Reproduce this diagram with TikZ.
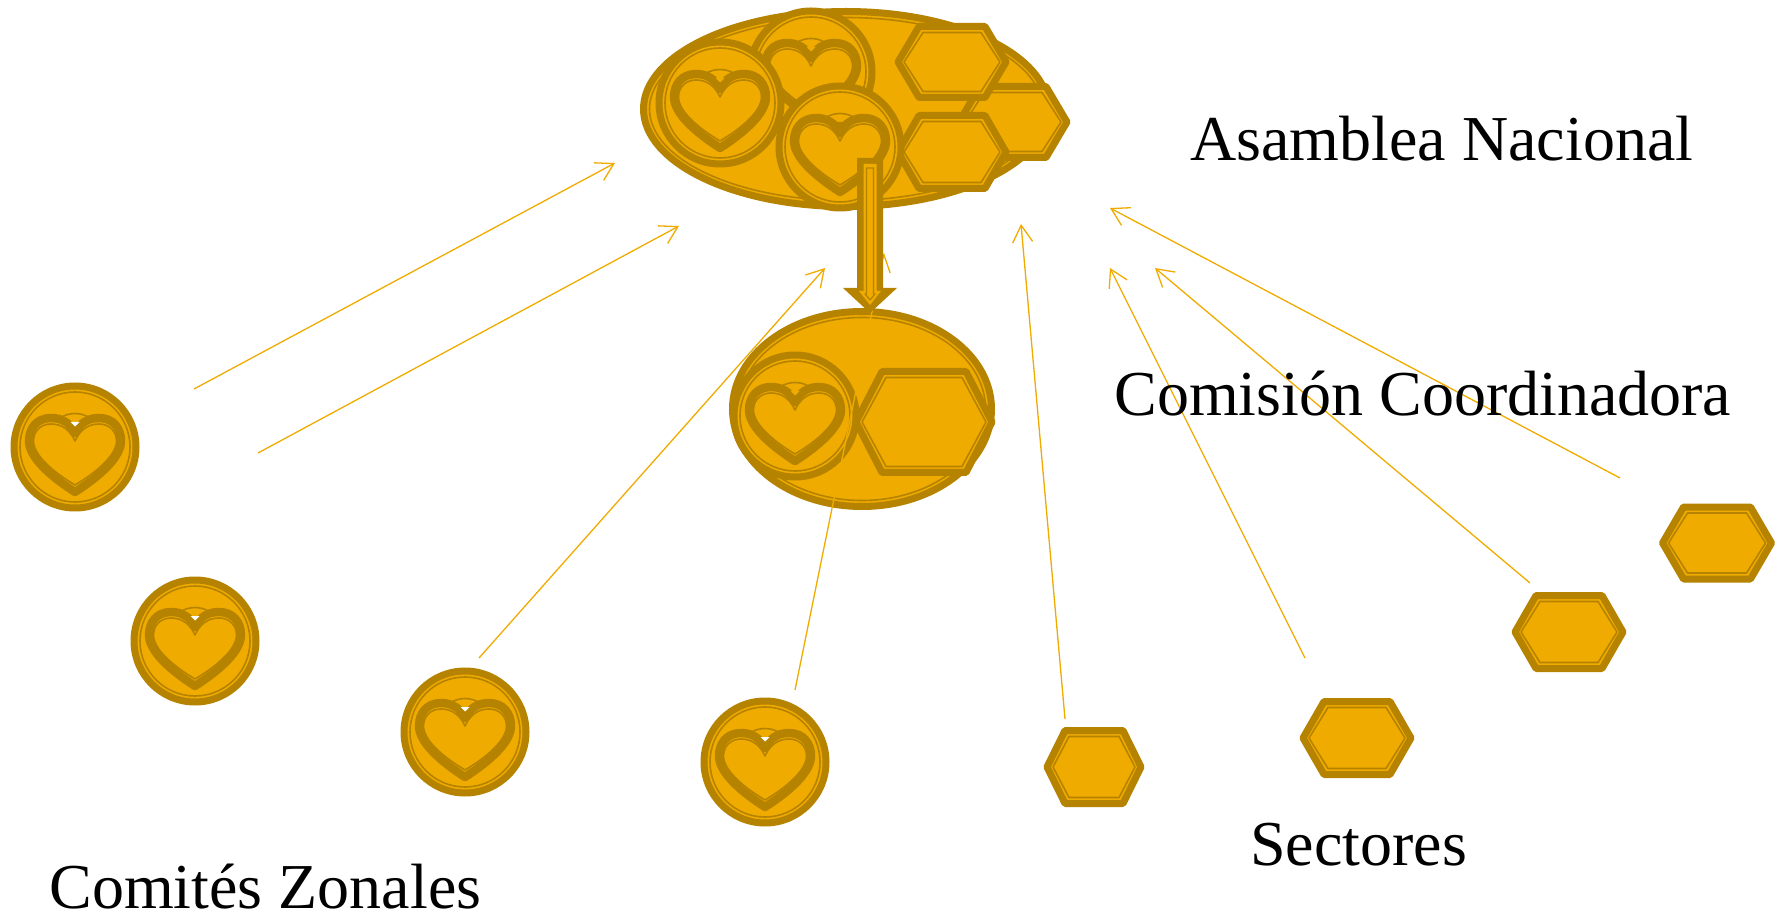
\documentclass[tikz,border=0pt]{standalone}
\usepackage{fontspec}
\setmainfont{Liberation Serif}
\usetikzlibrary{arrows.meta}
\definecolor{gold}{HTML}{F0AB00}
\definecolor{darkgold}{HTML}{B58300}
\tikzset{
  band/.style={draw=darkgold,line width=3.5pt,line join=round,fill=gold},
  heartband/.style={draw=darkgold,line width=4.2pt,line join=round,fill=gold},
  thin/.style={draw=darkgold,line width=0.8pt,line join=round},
  link/.style={draw=gold,line width=0.65pt,-{Straight Barb[length=8.5pt,width=10pt,line width=0.65pt]}},
  lab/.style={anchor=base west,inner sep=0pt,text depth=0pt,font=\fontsize{32}{38}\selectfont,text=black}
}
% blob: cx cy rx ry
\newcommand{\blobshape}[4]{%
  \path[band] (#1,#2) ellipse [x radius=#3-3.5,y radius=#4-3.5];
  \path[thin] (#1,#2) ellipse [x radius=#3-9.5,y radius=#4-9.5];
}
% hexa: cx cy hw hh inset
\newcommand{\hexa}[5]{%
  \begin{scope}[shift={(#1,#2)}]
  \path[band] (-#3+3,0) -- (-#3+#5+1,-#4+3.5) -- (#3-#5-1,-#4+3.5) -- (#3-3,0) -- (#3-#5-1,#4-3.5) -- (-#3+#5+1,#4-3.5) -- cycle;
  \path[thin] (-#3+9,0) -- (-#3+#5+5,-#4+9.5) -- (#3-#5-5,-#4+9.5) -- (#3-9,0) -- (#3-#5-5,#4-9.5) -- (-#3+#5+5,#4-9.5) -- cycle;
  \end{scope}
}
% coin: cx cy triangle colour
\newcommand{\coin}[3]{%
  \begin{scope}[shift={(#1,#2)}]
  \path[band] (0,0) ellipse [x radius=61,y radius=61];
  \path[thin] (0,0) ellipse [x radius=55,y radius=55];
  \path[thin,fill=gold] (-15,-29) .. controls (-6,-35) and (6,-35) .. (15,-29) -- (0,-18) -- cycle;
  \path[heartband] (0,-14) .. controls (-5,-24) and (-13,-29) .. (-24,-29)
     .. controls (-38,-29) and (-46,-19) .. (-46,-6)
     .. controls (-46,10) and (-25,29) .. (0,45)
     .. controls (25,29) and (46,10) .. (46,-6)
     .. controls (46,-19) and (38,-29) .. (24,-29)
     .. controls (13,-29) and (5,-24) .. (0,-14) -- cycle;
  \fill[#3] (-4.5,-25) -- (4.5,-25) -- (0,-20.5) -- cycle;
  \path[thin] (0,-6) .. controls (-5,-17) and (-13,-23) .. (-24,-23)
     .. controls (-35,-23) and (-41.5,-15) .. (-41.5,-6)
     .. controls (-41.5,8) and (-22,25) .. (0,38)
     .. controls (22,25) and (41.5,8) .. (41.5,-6)
     .. controls (41.5,-15) and (35,-23) .. (24,-23)
     .. controls (13,-23) and (5,-17) .. (0,-6) -- cycle;
  \end{scope}
}
\begin{document}
\begin{tikzpicture}[x=0.5pt,y=-0.5pt]
\useasboundingbox (0,0) rectangle (1783,914);
% link ends
\coordinate (s1) at (194,389); \coordinate (t1) at (615,163);
\coordinate (s2) at (258,453); \coordinate (t2) at (679,226);
\coordinate (s3) at (479,658); \coordinate (t3) at (825,268);
\coordinate (s4) at (795,690); \coordinate (t4) at (884,253);
\coordinate (s5) at (1065,719); \coordinate (t5) at (1021,224);
\coordinate (s6) at (1305,658); \coordinate (t6) at (1110,268);
\coordinate (s7) at (1530,583); \coordinate (t7) at (1155,268);
\coordinate (s8) at (1620,478); \coordinate (t8) at (1110,208);
% big assembly
\blobshape{846}{109}{206}{101}
\coin{811}{72}{gold}
\coin{720}{103}{gold}
\hexa{1013}{122}{57}{39}{23}
\hexa{952}{62}{57}{39}{23}
\hexa{952}{152}{57}{40}{23}
\coin{840}{147}{darkgold}
% commission
\blobshape{862}{409}{133}{101}
\coin{795}{416}{gold}
\hexa{924}{422}{71}{54}{28}
% lone items
\coin{75}{447}{white}
\coin{195}{641}{white}
\coin{465}{732}{white}
\coin{765}{762}{white}
\hexa{1094}{767}{50}{40}{20}
\hexa{1357}{738}{57}{40}{23}
\hexa{1569}{632}{57}{40}{23}
\hexa{1717}{543}{57.5}{39.5}{23}
% links
\draw[link] (s1) -- (t1);
\draw[link] (s2) -- (t2);
\draw[link] (s3) -- (t3);
\draw[link] (s4) -- (t4);
\draw[link] (s5) -- (t5);
\draw[link] (s6) -- (t6);
\draw[link] (s7) -- (t7);
\draw[link] (s8) -- (t8);
% big arrow
\fill[darkgold] (857,158) -- (883,158) -- (883,288) -- (897,288) -- (870,313) -- (843,288) -- (857,288) -- cycle;
\fill[gold] (863.5,164) -- (876.5,164) -- (876.5,291) -- (881,291) -- (870,305) -- (859,291) -- (863.5,291) -- cycle;
\path[thin,fill=gold,line width=0.6pt] (866.5,168) -- (873.5,168) -- (873.5,294) -- (875,294) -- (870,300) -- (865,294) -- (866.5,294) -- cycle;
% labels
\node[lab] (an) at (1190,161) {Asamblea Nacional};
\node[lab] (cc) at (1114,416) {Comisión Coordinadora};
\node[lab] (se) at (1250,865) {Sectores};
\node[lab] (cz) at (49,908) {Comités Zonales};
\end{tikzpicture}
\end{document}
